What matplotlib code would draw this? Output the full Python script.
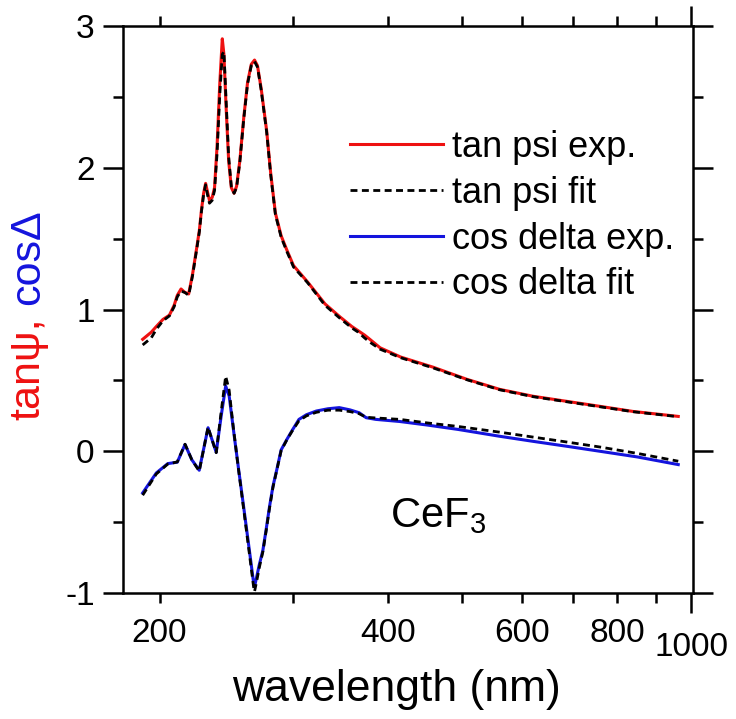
import matplotlib.pyplot as plt
from matplotlib.ticker import FixedLocator, FuncFormatter, MultipleLocator

plt.rcParams['font.family'] = ['Liberation Sans', 'DejaVu Sans']
plt.rcParams['mathtext.fontset'] = 'custom'
plt.rcParams['mathtext.rm'] = 'Liberation Sans'
plt.rcParams['axes.unicode_minus'] = False

wl_psi = [190, 195, 198, 202, 206, 209, 211, 213.4, 216, 218.4, 221, 224, 225.6,
          227, 228.5, 229.9, 231.2, 232.6, 234.5, 236.2, 238, 240, 241.8, 243,
          244.5, 246.5, 248.5, 250.6, 252.5, 255, 258, 261, 264, 266.6, 269, 272,
          276.6, 280, 284, 289, 294, 300, 313, 330, 345, 358, 365, 372, 378, 390,
          415, 458, 507, 560, 620, 687, 759, 839, 962]
psi_exp = [0.79, 0.84, 0.88, 0.93, 0.96, 1.03, 1.10, 1.145, 1.12, 1.11, 1.25, 1.45,
           1.56, 1.70, 1.82, 1.89, 1.83, 1.77, 1.79, 1.86, 2.15, 2.60, 2.91, 2.80,
           2.45, 2.05, 1.86, 1.82, 1.87, 2.05, 2.35, 2.60, 2.73, 2.76, 2.72, 2.56,
           2.26, 1.96, 1.68, 1.52, 1.42, 1.31, 1.195, 1.04, 0.95, 0.88, 0.85, 0.82,
           0.79, 0.73, 0.665, 0.593, 0.508, 0.437, 0.388, 0.352, 0.317, 0.281, 0.246]
psi_fit = [0.75, 0.80, 0.86, 0.92, 0.955, 1.02, 1.09, 1.13, 1.12, 1.10, 1.24, 1.44,
           1.55, 1.69, 1.81, 1.88, 1.81, 1.75, 1.77, 1.84, 2.10, 2.52, 2.80, 2.82,
           2.50, 2.08, 1.87, 1.82, 1.86, 2.04, 2.34, 2.59, 2.72, 2.75, 2.71, 2.55,
           2.25, 1.95, 1.67, 1.51, 1.41, 1.30, 1.19, 1.03, 0.94, 0.87, 0.84, 0.80,
           0.77, 0.72, 0.66, 0.588, 0.505, 0.434, 0.385, 0.349, 0.314, 0.279, 0.244]

# cos delta: measured and fitted
wl_del = [190, 198, 205, 211, 216, 220.5, 225.5, 231.6, 237.4, 241, 244.3, 246.9,
          250, 254, 258, 262, 265.9, 266.6, 268.5, 270.5, 273.4, 276, 279, 281.9,
          285, 289, 294, 299, 305, 312, 321.5, 333, 344.6, 356, 366, 373.8, 385,
          414, 450, 494, 560, 620, 687, 759, 850, 962]
del_exp = [-0.294, -0.153, -0.087, -0.077, 0.048, -0.06, -0.134, 0.166, -0.007,
           0.25, 0.46, 0.39, 0.16, -0.124, -0.395, -0.667, -0.93, -0.955, -0.88,
           -0.80, -0.70, -0.56, -0.39, -0.247, -0.137, 0.01, 0.083, 0.15, 0.225,
           0.258, 0.284, 0.30, 0.308, 0.292, 0.272, 0.237, 0.225, 0.21, 0.185,
           0.154, 0.106, 0.07, 0.035, 0.0, -0.04, -0.094]
del_fit = [-0.31, -0.16, -0.09, -0.075, 0.05, -0.06, -0.14, 0.17, -0.01,
           0.28, 0.53, 0.43, 0.17, -0.13, -0.41, -0.69, -0.96, -0.99, -0.91,
           -0.82, -0.71, -0.57, -0.40, -0.255, -0.14, 0.005, 0.08, 0.145, 0.215,
           0.25, 0.275, 0.29, 0.29, 0.28, 0.265, 0.24, 0.235, 0.225, 0.20,
           0.175, 0.135, 0.10, 0.065, 0.03, -0.015, -0.07]

x_minor = [200, 300, 400, 500, 600, 700, 800, 900]
x_labelled = [200, 400, 600, 800, 1000]

fig = plt.figure(figsize=(7.36, 7.19), dpi=100)
ax = fig.add_axes([0.1671, 0.1752, 0.7745, 0.7886])

dash = (0, (2.5, 1.6))
ax.plot(wl_psi, psi_exp, color='#ee1111', lw=2.2, label='tan psi exp.')
ax.plot(wl_psi, psi_fit, color='black', lw=2.0, ls=dash, label='tan psi fit')
ax.plot(wl_del, del_exp, color='#1414dd', lw=2.2, label='cos delta exp.')
ax.plot(wl_del, del_fit, color='black', lw=2.0, ls=dash, label='cos delta fit')

ax.set_xscale('log')
ax.set_xlim(179, 1006)
ax.set_ylim(-1, 3)

lab = FuncFormatter(lambda v, p: f'{v:.0f}' if round(v) in x_labelled else '')
ax.xaxis.set_major_locator(FixedLocator([1000]))
ax.xaxis.set_minor_locator(FixedLocator(x_minor))
ax.xaxis.set_major_formatter(lab)
ax.xaxis.set_minor_formatter(lab)
ax.yaxis.set_major_locator(MultipleLocator(1))
ax.yaxis.set_minor_locator(MultipleLocator(0.5))

ax.tick_params(which='both', direction='out', top=True, right=True,
               width=1.8, labelsize=24)
ax.tick_params(which='major', length=14.4)
ax.tick_params(which='minor', length=7.2)
ax.tick_params(axis='x', which='minor', pad=11)
ax.tick_params(axis='x', which='major', pad=14)
ax.tick_params(axis='y', pad=6)
for s in ax.spines.values():
    s.set_linewidth(1.8)

ax.legend(loc='upper left', bbox_to_anchor=(350 / 736, 1 - 130 / 719),
          bbox_transform=fig.transFigure, frameon=False, fontsize=26,
          handlelength=2.58, handletextpad=0.25, labelspacing=0.3,
          borderpad=0, borderaxespad=0)

fig.text(390 / 736, 1 - 527 / 719, 'CeF$_3$', fontsize=30, ha='left', va='baseline')
fig.text(396 / 736, 1 - 690 / 719, 'wavelength (nm)', fontsize=32,
         ha='center', va='center')
fig.text(28 / 736, 1 - 420 / 719, 'tanψ,', fontsize=31, color='#ee1111',
         rotation=90, ha='center', va='bottom')
fig.text(28 / 736, 1 - 305 / 719, 'cosΔ', fontsize=31, color='#1414dd',
         rotation=90, ha='center', va='bottom')

plt.savefig('out.png', dpi=100)
